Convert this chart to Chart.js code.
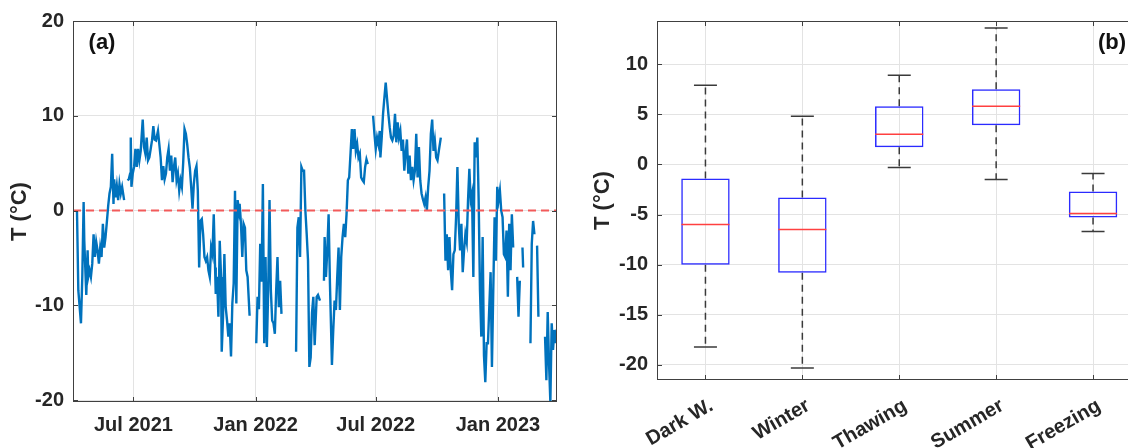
<!DOCTYPE html>
<html>
<head>
<meta charset="utf-8">
<title>Temperature series and seasonal box plot</title>
<script src="https://cdn.jsdelivr.net/npm/chart.js@4.4.1/dist/chart.umd.min.js"></script>
<style>
  html, body { margin: 0; padding: 0; background: #fff; overflow: hidden; width: 1128px; height: 448px; }
  #wrapA { position: absolute; left: 0; top: 0; width: 570px; height: 448px; }
  #wrapB { position: absolute; left: 580px; top: 0; width: 600px; height: 448px; }
</style>
</head>
<body>
<div id="wrapA"><canvas id="chartA" width="570" height="448"></canvas></div>
<div id="wrapB"><canvas id="chartB" width="600" height="448"></canvas></div>
<script>
// (a) daily temperature, day 0 = 1 Apr 2021, null = missing data
const days = [
  6, 8, 12, 14, 16, 17, 19, 20, 22, 23, 25, 27, 29, 31, 33, 35, 37, 39, 41, 43, 45, 47, 49, 51, 53, 55, 57, 59, 61, 62, 64, 66, 68, 70, 72, 74, 77,
  79,
  82, 84, 86, 87, 88, 90, 92, 94, 96, 98, 100, 102, 105, 107, 109, 111, 113, 115, 117, 119, 121, 123, 125, 128, 130, 132, 134, 136, 138, 140,
  142, 144, 146, 148, 150, 152, 154, 156, 158, 160, 162, 164, 166, 168, 170, 172, 174, 176, 178, 180, 182, 184, 186, 188, 190, 192, 194, 196,
  198, 200, 202, 204, 206, 208, 210, 212, 214, 215, 217, 219, 221, 223, 224, 226, 228, 230, 232, 234, 236, 238, 240, 242, 244, 246, 248, 250,
  251, 253, 255, 257, 259, 261, 263, 266,
  270,
  276, 278, 280, 282, 284, 286, 288, 290, 292, 294, 296, 298, 300, 302, 304, 306, 308, 310, 312, 314,
  325,
  336, 338, 340, 342, 344, 346, 348, 350, 352, 354, 356, 358, 360, 362, 364, 367, 369, 372,
  375,
  378, 379, 381, 383, 385, 387, 389, 390, 392, 394, 396, 398, 400, 402, 404, 406, 408, 410, 412, 414, 416, 418, 420, 422, 424, 426, 428, 430,
  432, 434, 436, 438, 440, 442, 444,
  448,
  452, 454, 456, 458, 460, 462, 463, 465, 467, 469, 471, 473, 475, 477, 479, 481, 483, 485, 487, 489, 491, 493, 495, 497, 499, 501, 503, 505,
  507, 509, 511, 513, 515, 517, 519, 521, 523, 525, 527, 529, 531, 533, 535, 537, 539, 541, 543, 545, 547, 549, 551, 554,
  556,
  559, 561, 563, 565, 567, 569, 571, 573, 575, 577, 579, 581, 583, 585, 587, 589, 591, 593, 595, 597, 599, 601, 603, 605, 607, 609, 611, 613,
  615, 617, 619, 621, 623, 625, 627, 629, 631, 633, 635, 637, 639, 641, 643, 645, 647, 649, 651, 653, 655, 657, 659, 661, 663,
  666,
  669, 671, 673,
  675,
  677, 678,
  683,
  689, 691, 693, 695,
  697,
  699, 701,
  705,
  711, 713, 715, 717, 719, 721, 723, 725, 727, 729
];
const temps = [
  0.0, -8.4, -11.9, -7.0, 0.9, -3.2, -7.0, -8.9, -4.2, -7.0, -6.3, -7.0, -5.6, -2.5, -4.9, -3.3, -4.2, -5.6, -3.9, -4.9, -1.4, -3.9, -2.8, -1.2, 0.5, 1.8, 2.5, 6.0, 0.7, 3.3, 1.4, 2.6, 1.1, 2.8, 1.8, 2.5, 1.1,
  null,
  3.2, 3.3, 3.9, 7.7, 2.5, 3.9, 4.6, 6.5, 4.6, 6.5, 5.3, 6.3, 9.6, 6.7, 6.0, 7.7, 5.3, 5.6, 6.5, 7.4, 8.9, 7.5, 7.4, 8.4, 7.0, 5.6, 3.2, 4.7, 3.3, 3.9,
  5.6, 6.5, 4.2, 5.8, 3.0, 4.6, 5.6, 3.2, 3.9, 2.1, 3.2, 2.5, 5.1, 8.6, 8.1, 7.0, 5.6, 4.5, 2.5, 0.2, 2.8, 4.2, 4.7, 2.1, -6.0, -1.1, -0.9, -2.5,
  -4.9, -5.3, -4.9, -6.3, -7.0, -3.9, -4.6, -0.4, -6.0, -8.8, -7.0, -11.2, -3.2, -7.0, -14.9, -11.2, -4.6, -10.2, -11.6, -13.3, -11.9, -15.4, -9.8, -7.7, 2.1, -9.8, 1.1, 0.0,
  0.7, -1.4, -4.9, -1.4, -1.8, -6.3, -7.0, -11.1,
  null,
  -14.0, -9.1, -10.4, -3.5, -7.5, 2.8, -14.0, -4.9, -14.4, -8.4, 1.1, -8.4, -11.6, -11.9, -13.0, -8.4, -4.9, -10.2, -7.4, -10.9,
  null,
  -14.9, -1.8, -0.7, -4.9, 4.6, 4.2, 4.2, 0.0, -2.5, -5.3, -16.5, -15.5, -10.8, -9.1, -14.2, -9.1, -8.9, -9.5,
  null,
  -7.4, -2.8, -7.0, -4.2, -0.4, -7.7, -13.3, -16.3, -12.6, -9.5, -10.5, -7.0, -3.9, -10.5, -4.9, -2.8, -1.4, -2.8, -0.4, 3.2, 3.5, 6.0, 8.6, 6.5, 8.6, 6.3, 7.0, 5.6,
  6.0, 3.5, 3.2, 3.0, 4.6, 5.4, 4.9,
  null,
  10.0, 8.1, 6.5, 7.7, 7.0, 8.4, 5.6, 7.7, 10.2, 11.9, 13.5, 11.8, 10.2, 8.8, 7.7, 7.4, 7.9, 10.2, 7.2, 9.3, 7.7, 8.4, 6.3, 7.5, 4.2, 6.0, 7.5, 3.9,
  5.8, 3.2, 4.6, 3.2, 4.2, 8.1, 3.5, 6.7, 3.2, 1.8, 1.2, 0.7, 1.4, 0.0, 2.5, 4.2, 8.1, 9.6, 6.3, 7.4, 5.6, 5.3, 6.3, 7.7,
  null,
  1.8, -5.3, -2.5, -6.3, -2.8, -6.3, -8.4, -4.6, -4.2, -0.7, 4.6, -1.4, -4.2, -1.4, -6.5, -4.2, -2.5, -3.3, 1.1, 4.4, 1.1, 1.8, -7.0, 7.2, 5.6, 7.7, 1.1, -8.4,
  -13.3, -2.8, -15.3, -18.1, -14.0, -14.0, -10.2, -6.5, -16.5, -8.4, -0.7, -5.3, 2.5, 1.1, 2.1, 0.0, -0.7, -4.6, -4.9, -2.1, -9.1, -1.4, -6.3, -0.4, -3.9,
  null,
  -7.0, -11.2, -7.4,
  null,
  -3.9, -6.0,
  null,
  -14.0, -3.5, -1.1, -2.5,
  null,
  -3.7, -11.2,
  null,
  -13.3, -17.9, -10.7, -16.1, -20.2, -11.9, -14.7, -12.6, -14.0, -12.5
];
const xTickDays = [91, 275, 456, 640];
const xTickLabels = ['Jul 2021', 'Jan 2022', 'Jul 2022', 'Jan 2023'];
const dayRange = [0, 729];
const yTicksA = [-20, -10, 0, 10, 20];
const zeroLevel = 0;

// (b) box plot statistics per season
const seasons = ['Dark W.', 'Winter', 'Thawing', 'Summer', 'Freezing'];
const whiskerLow = [-18.2, -20.3, -0.3, -1.5, -6.7];
const q1 = [-10.0, -10.8, 1.7, 3.9, -5.3];
const median = [-6.0, -6.5, 3.0, 5.8, -4.9];
const q3 = [-1.4, -3.3, 5.8, 7.5, -2.7];
const whiskerHigh = [7.9, 4.8, 8.9, 13.6, -0.9];
const yTicksB = [-20, -15, -10, -5, 0, 5, 10];

const FONT = "'Liberation Sans', Arial, sans-serif";
const TEXT = '#262626';
const GRID = '#e3e3e3';
Chart.defaults.font.family = FONT;

// full box around the axes with inward ticks, like the original
const framePlugin = {
  id: 'frame',
  afterDraw(chart) {
    const { ctx, chartArea: a, scales } = chart;
    ctx.save();
    ctx.strokeStyle = '#404040';
    ctx.lineWidth = 1;
    ctx.strokeRect(a.left + 0.5, a.top + 0.5, a.right - a.left - 1, a.bottom - a.top - 1);
    ctx.beginPath();
    scales.x.ticks.forEach((t, i) => {
      const x = Math.round(scales.x.getPixelForTick(i)) + 0.5;
      ctx.moveTo(x, a.bottom); ctx.lineTo(x, a.bottom - 5);
      ctx.moveTo(x, a.top); ctx.lineTo(x, a.top + 5);
    });
    scales.y.ticks.forEach(t => {
      const y = Math.round(scales.y.getPixelForValue(t.value)) + 0.5;
      ctx.moveTo(a.left, y); ctx.lineTo(a.left + 5, y);
      ctx.moveTo(a.right, y); ctx.lineTo(a.right - 5, y);
    });
    ctx.stroke();
    ctx.restore();
  }
};

const panelLabel = {
  id: 'panelLabel',
  afterDraw(chart, args, opts) {
    const ctx = chart.ctx;
    ctx.save();
    ctx.font = 'bold 22px ' + FONT;
    ctx.fillStyle = '#111';
    ctx.textAlign = 'center';
    ctx.textBaseline = 'middle';
    ctx.fillText(opts.text, opts.x, opts.y);
    ctx.restore();
  }
};

const tickFont = { size: 20, weight: 'bold' };
const titleFont = { size: 22, weight: 'bold' };

// panel (a)
const series = days.map((d, i) => ({ x: d, y: temps[i] }));
const zeroData = dayRange.map(d => ({ x: d, y: zeroLevel }));

new Chart(document.getElementById('chartA'), {
  type: 'line',
  data: {
    datasets: [
      { data: zeroData, borderColor: '#f25a5a', borderWidth: 2, borderDash: [8, 5], pointRadius: 0, order: 0 },
      { data: series, borderColor: '#0072BD', borderWidth: 2.4, pointRadius: 0, spanGaps: false, order: 1 }
    ]
  },
  options: {
    responsive: false,
    animation: false,
    events: [],
    layout: { autoPadding: false, padding: { left: 0, right: 13, top: 20, bottom: 0 } },
    plugins: {
      legend: { display: false },
      tooltip: { enabled: false },
      panelLabel: { text: '(a)', x: 102, y: 43 }
    },
    scales: {
      x: {
        type: 'linear',
        min: dayRange[0],
        max: dayRange[1],
        afterBuildTicks: s => { s.ticks = xTickDays.map(v => ({ value: v })); },
        afterFit: s => { s.height = 46; },
        ticks: {
          callback: (v, i) => xTickLabels[i],
          font: tickFont, color: TEXT, padding: 11, maxRotation: 0, autoSkip: false
        },
        grid: { color: GRID, drawTicks: false },
        border: { display: false }
      },
      y: {
        min: -20.2,
        max: 20,
        afterBuildTicks: s => { s.ticks = yTicksA.map(v => ({ value: v })); },
        afterFit: s => { s.width = 73; },
        ticks: { font: tickFont, color: TEXT, padding: 9 },
        grid: { color: GRID, drawTicks: false },
        border: { display: false },
        title: { display: true, text: 'T (°C)', font: titleFont, color: TEXT, padding: { top: 7, bottom: 0 } }
      }
    }
  },
  plugins: [framePlugin, panelLabel]
});

// panel (b)
const whiskerData = [];
seasons.forEach((s, i) => {
  whiskerData.push({ x: s, y: q3[i] }, { x: s, y: whiskerHigh[i] }, { x: s, y: null });
  whiskerData.push({ x: s, y: q1[i] }, { x: s, y: whiskerLow[i] }, { x: s, y: null });
});
const capData = [];
seasons.forEach((s, i) => {
  capData.push({ x: s, y: whiskerLow[i] }, { x: s, y: whiskerHigh[i] });
});

new Chart(document.getElementById('chartB'), {
  type: 'bar',
  data: {
    labels: seasons,
    datasets: [
      {
        type: 'line', data: whiskerData, borderColor: '#3a3a3a', borderWidth: 1.5,
        borderDash: [7, 5], pointRadius: 0, spanGaps: false, order: 3
      },
      {
        type: 'bar', data: seasons.map((s, i) => [q1[i], q3[i]]),
        backgroundColor: 'rgba(0,0,0,0)', borderColor: '#2b2bff', borderWidth: 1.5,
        borderSkipped: false, barPercentage: 0.5, categoryPercentage: 1, order: 2
      },
      {
        type: 'line', data: seasons.map((s, i) => ({ x: s, y: median[i] })), showLine: false,
        pointStyle: 'line', pointRadius: 24, pointBorderColor: '#ff4040', pointBorderWidth: 1.5, order: 1
      },
      {
        type: 'line', data: capData, showLine: false,
        pointStyle: 'line', pointRadius: 11.5, pointBorderColor: '#3a3a3a', pointBorderWidth: 1.5, order: 1
      }
    ]
  },
  options: {
    responsive: false,
    animation: false,
    events: [],
    layout: { autoPadding: false, padding: { left: 0, right: 38.5, top: 20, bottom: 0 } },
    plugins: {
      legend: { display: false },
      tooltip: { enabled: false },
      panelLabel: { text: '(b)', x: 532, y: 43 }
    },
    scales: {
      x: {
        afterFit: s => { s.height = 68; },
        ticks: { font: tickFont, color: TEXT, padding: 14, labelOffset: 6, minRotation: 30, maxRotation: 30, autoSkip: false },
        grid: { color: GRID, drawTicks: false, offset: false },
        border: { display: false }
      },
      y: {
        min: -21.5,
        max: 14.3,
        afterBuildTicks: s => { s.ticks = yTicksB.map(v => ({ value: v })); },
        afterFit: s => { s.width = 77; },
        ticks: { font: tickFont, color: TEXT, padding: 9 },
        grid: { color: GRID, drawTicks: false },
        border: { display: false },
        title: { display: true, text: 'T (°C)', font: titleFont, color: TEXT, padding: { top: 10, bottom: 0 } }
      }
    }
  },
  plugins: [framePlugin, panelLabel]
});
</script>
</body>
</html>
